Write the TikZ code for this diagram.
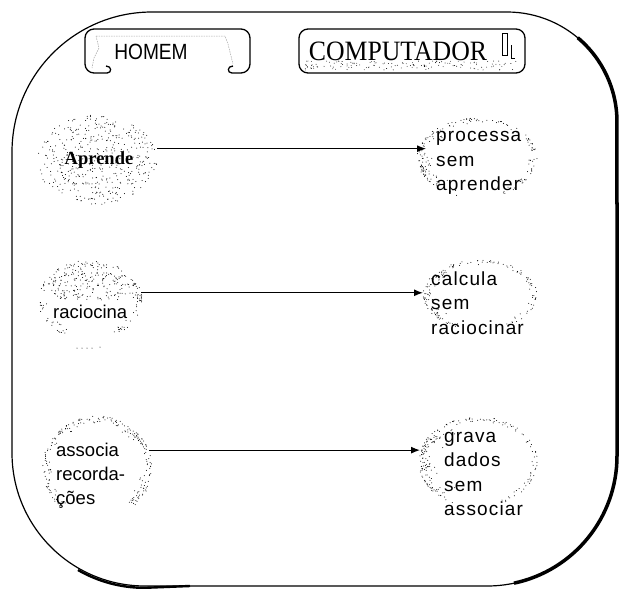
\documentclass[tikz,border=0pt]{standalone}
\usepackage{fontspec}
\setmainfont{Liberation Serif}
\newfontfamily\lsans{Liberation Sans}
\newfontfamily\lsansw[LetterSpace=6]{Liberation Sans}
\usetikzlibrary{shapes.geometric,arrows.meta}
% random stipple in an elliptical ring: cx cy rx ry rmin N amin amax
\newcommand\mydots[8]{%
  \foreach \k in {1,...,#6}{%
    \pgfmathsetmacro\myaa{#7+rnd*(#8-#7)}%
    \pgfmathsetmacro\myrr{#5+(1-#5)*sqrt(rnd)}%
    \fill[stip] ({#1+#3*\myrr*cos(\myaa)},{#2+#4*\myrr*sin(\myaa)}) circle[radius=0.5pt];
  }}
% random stipple in a rectangle: x0 y0 w h N
\newcommand\myrectdots[5]{%
  \foreach \k in {1,...,#5}{%
    \fill[stip] ({#1+rnd*#3},{#2+rnd*#4}) circle[radius=0.45pt];
  }}
\begin{document}
\begin{tikzpicture}[x=1pt,y=-1pt,
  stip/.style={black},
  frame/.style={line width=1.2pt, line join=round},
  hdr/.style={line width=1.3pt},
  faint/.style={gray!70, line width=0.5pt, dash pattern=on 1.5pt off 1pt},
  blob/.style={ellipse, draw=none, inner sep=0pt},
  lefttext/.style={font=\lsans\fontsize{18.5}{24}\selectfont, align=left, inner sep=0pt},
  righttext/.style={font=\lsansw\fontsize{19}{24.5}\selectfont, align=left, inner sep=0pt},
  arr/.style={line width=1.1pt, -{Latex[length=9pt,width=7pt]}}
]
\useasboundingbox (0,0) rectangle (619,589);
\pgfmathsetseed{11}

% outer frame
\draw[frame] (152,12) -- (507,12) arc[start angle=-90,end angle=0,radius=110]
  -- (617,456) arc[start angle=0,end angle=90,radius=130]
  -- (145,586) arc[start angle=90,end angle=180,radius=133]
  -- (12,152) arc[start angle=180,end angle=270,radius=140] -- cycle;
\draw[line width=3.5pt] (577.7,37.7) arc[start angle=-50,end angle=0,radius=110]
  -- (617,456) arc[start angle=0,end angle=78,radius=130];
\draw[line width=2.4pt] (78,570) arc[start angle=120,end angle=90,radius=133] -- (190,586);

% header boxes
\draw[hdr, rounded corners=9pt] (107,73) -- (85,73) -- (85,29) -- (250,29) -- (250,73) -- (232,73);
\draw[hdr] (107,73) .. controls (112,73) and (112,66) .. (106,66);
\draw[hdr] (232,73) .. controls (227,73) and (227,66) .. (233,66);
\draw[faint] (96,36) -- (225,36) -- (228,44) -- (233,64);
\draw[faint] (96,36) -- (99,48) -- (94,58) -- (92,68);
\node[font=\lsans\fontsize{22}{22}\selectfont, xscale=0.87] (hh) at (151,52) {HOMEM};

\draw[hdr, rounded corners=9pt] (299,29) rectangle (525,73);
\myrectdots{304}{61}{214}{9}{140}
\draw[line width=0.6pt] (502,33) rectangle (507,55);
\draw[line width=0.6pt] (511,45) -- (511,58) -- (515,58);
\node[font=\fontsize{28}{28}\selectfont, xscale=0.92] (hc) at (398,51) {COMPUTADOR};

% stipple of the blobs
\mydots{97}{160}{60}{45}{0}{450}{0}{360}
\mydots{90}{300}{52}{40}{0}{260}{180}{360}
\mydots{90}{300}{52}{40}{0.8}{25}{0}{60}
\mydots{90}{300}{52}{40}{0.8}{25}{120}{180}
\fill[stip] (77,348) circle[radius=0.5pt] (82,348) circle[radius=0.5pt] (87,348) circle[radius=0.5pt] (92,348) circle[radius=0.5pt] (100,347) circle[radius=0.5pt];
\mydots{97}{468}{55}{52}{0.8}{220}{130}{410}
\mydots{477}{158}{60}{40}{0.86}{130}{110}{430}
\mydots{477}{158}{60}{40}{0.7}{50}{130}{230}
\mydots{480}{295}{57}{35}{0.86}{120}{115}{425}
\mydots{480}{295}{57}{35}{0.75}{40}{130}{230}
\mydots{478}{462}{60}{45}{0.86}{130}{115}{425}
\mydots{478}{462}{60}{45}{0.65}{80}{120}{240}

% nodes
\node[blob, minimum width=120pt, minimum height=90pt, font=\bfseries\fontsize{18.5}{20}\selectfont] (e1) at (99,160) {Aprende};
\node[righttext, anchor=west] (b1) at (436,163) {processa\\sem\\aprender};

\node[blob, minimum width=104pt, minimum height=80pt] (e2) at (90,300) {};
\node[lefttext, anchor=west] (t2) at (53,312) {raciocina};
\node[righttext, anchor=west] (b2) at (431,303) {calcula\\sem\\raciocinar};

\node[blob, minimum width=110pt, minimum height=104pt] (e3) at (97,468) {};
\node[lefttext, anchor=west] (t3) at (56,476) {associa\\recorda-\\ções};
\node[righttext, anchor=west] (b3) at (444,474) {grava\\dados\\sem\\associar};

% connectors
\draw[arr, shorten >=10pt] (e1.11) -- (e1.11 -| b1.west);
\draw[arr, shorten >=8pt] (e2.8) -- (e2.8 -| b2.west);
\draw[arr, shorten >=24pt] (e3.19) -- (e3.19 -| b3.west);
\end{tikzpicture}
\end{document}
